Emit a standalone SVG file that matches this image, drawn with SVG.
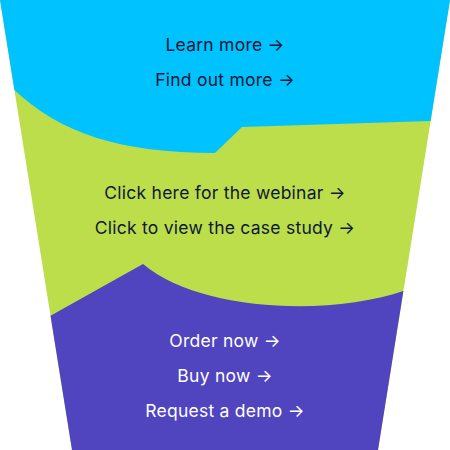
<svg xmlns="http://www.w3.org/2000/svg" width="450" height="450" viewBox="0 0 450 450">
  <style>
    .lbl { font-family: Inter, "Noto Sans", "Liberation Sans", sans-serif; font-size: 17.5px; letter-spacing: 0.25px; text-anchor: middle; }
    .dark { fill: #0f1736; }
    .light { fill: #ffffff; }
  </style>
  <rect width="450" height="450" fill="#ffffff"/>
  <g id="funnel-bands">
    <g id="band-middle">
      <path d="M0,0 L450,0 L378,450 L72,450 Z" fill="#bbde4a"/>
    </g>
    <g id="band-top">
      <path d="M0,0 L450,0 L430.6,121 L242,127 L215,153 C120,153 60,133 14.4,90 Z" fill="#00c2ff"/>
    </g>
    <g id="band-bottom">
      <path d="M50.5,315.7 L143,264 C200,312 330,316 403.4,291 L378,450 L72,450 Z" fill="#5044bf"/>
    </g>
  </g>
  <g id="top-labels">
    <text class="lbl dark" x="225" y="50.7">Learn more →</text>
    <text class="lbl dark" x="225" y="86">Find out more →</text>
  </g>
  <g id="middle-labels">
    <text class="lbl dark" x="225" y="198.5">Click here for the webinar →</text>
    <text class="lbl dark" x="225" y="233.5">Click to view the case study →</text>
  </g>
  <g id="bottom-labels">
    <text class="lbl light" x="225" y="346.5">Order now →</text>
    <text class="lbl light" x="225" y="381.5">Buy now →</text>
    <text class="lbl light" x="225" y="416.7">Request a demo →</text>
  </g>
</svg>
